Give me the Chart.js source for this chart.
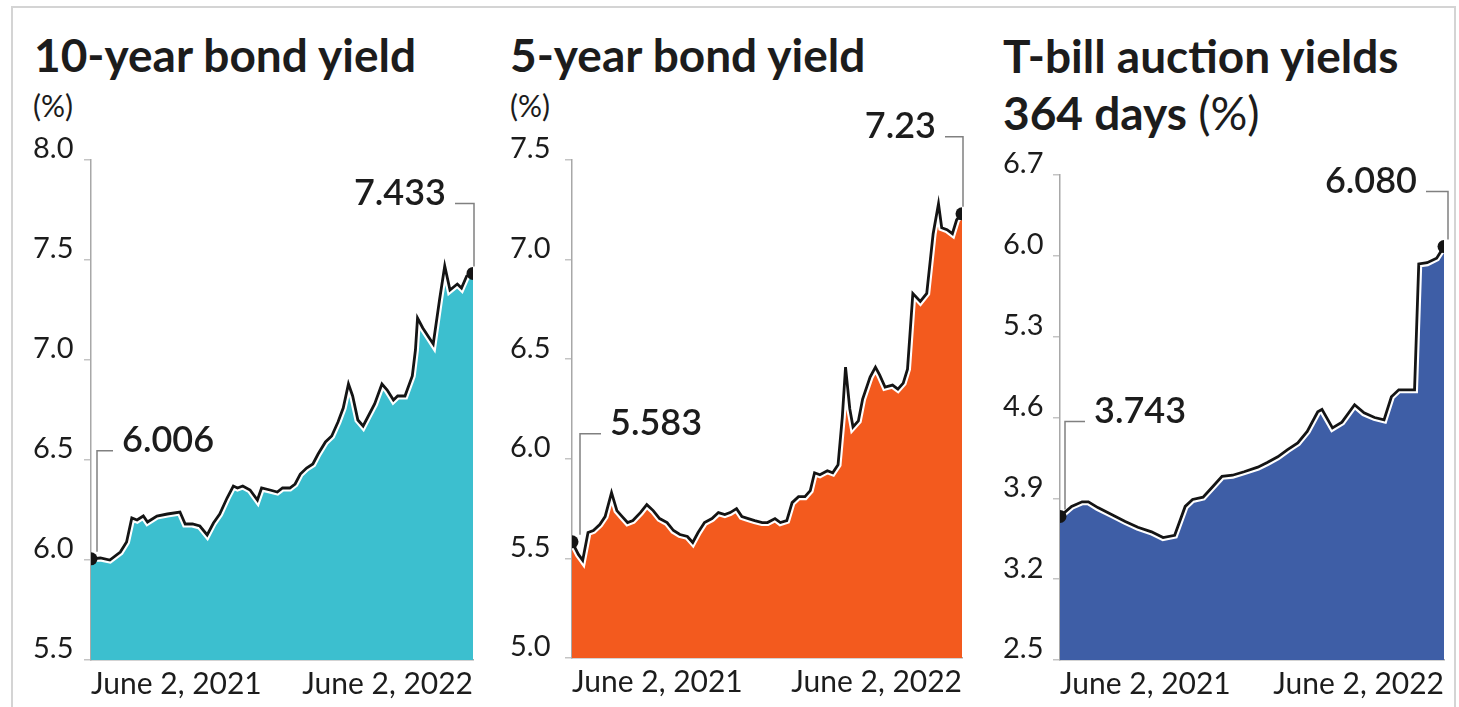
<!DOCTYPE html>
<html>
<head>
<meta charset="utf-8">
<script src="https://cdn.jsdelivr.net/npm/chart.js@4.4.1/dist/chart.umd.min.js"></script>
<style>
    html, body { margin: 0; padding: 0; background: #fff; }
    body { width: 1459px; height: 707px; position: relative; overflow: hidden; font-family: Lato, sans-serif; color: #1c1c1c; }
    .frame { position: absolute; left: 11px; top: 6px; width: 1441px; height: 730px; border: 2px solid #d4d4d4; }
    .title { position: absolute; font-weight: 700; font-size: 46px; line-height: 1; white-space: nowrap; }
    .title.two { line-height: 57px; }
    .title .light { font-weight: 400; }
    .unit { position: absolute; font-size: 30px; line-height: 1; }
    canvas { position: absolute; }
</style>
</head>
<body>
<div class="frame"></div>

<div class="title" style="left:34px; top:32px;">10-year bond yield</div>
<div class="unit" style="left:33px; top:90px;">(%)</div>
<div class="title" style="left:510px; top:32px;">5-year bond yield</div>
<div class="unit" style="left:510px; top:90px;">(%)</div>
<div class="title two" style="left:1003px; top:27px;">T-bill auction yields<br>364 days <span class="light">(%)</span></div>

<canvas id="ten-year" width="460" height="617" style="left:33px; top:90px;"></canvas>
<canvas id="five-year" width="476" height="617" style="left:510px; top:90px;"></canvas>
<canvas id="t-bill" width="454" height="617" style="left:1003px; top:90px;"></canvas>

<script>
// x values are days since June 2, 2021
const x_tick_days = [0, 365];
const x_tick_labels = ['June 2, 2021', 'June 2, 2022'];

const ten_days = [0, 9, 18, 28, 34, 39, 44, 50, 54, 63, 73, 85, 90, 97, 104, 111, 117, 123, 130, 136,
    140, 145, 152, 159, 163, 171, 178, 183, 190, 195, 200, 206, 212, 217, 224, 230, 236, 241, 246, 250,
    255, 260, 265, 271, 278, 283, 289, 293, 300, 307, 310, 312, 317, 327, 333, 338, 343, 350, 354, 359, 365];
const ten_yield = [6.006, 6.01, 6.0, 6.04, 6.09, 6.21, 6.2, 6.22, 6.19, 6.22, 6.23, 6.24, 6.18, 6.18, 6.17, 6.125, 6.185, 6.23, 6.31, 6.37,
    6.36, 6.37, 6.35, 6.30, 6.36, 6.35, 6.34, 6.36, 6.36, 6.38, 6.43, 6.46, 6.48, 6.53, 6.59, 6.62, 6.69, 6.76, 6.88, 6.82,
    6.70, 6.67, 6.72, 6.78, 6.88, 6.85, 6.80, 6.82, 6.82, 6.92, 7.05, 7.21, 7.16, 7.08, 7.30, 7.47, 7.35, 7.38, 7.36, 7.42, 7.433];
const ten_ticks = [5.5, 6.0, 6.5, 7.0, 7.5, 8.0];

const five_days = [0, 6, 10, 15, 20, 26, 31, 37, 42, 47, 52, 57, 64, 70, 76, 82, 89, 95, 101, 108,
    113, 118, 124, 131, 137, 143, 148, 154, 159, 165, 171, 178, 183, 190, 195, 201, 206, 212, 218, 223,
    227, 232, 239, 244, 249, 253, 256, 260, 263, 268, 272, 279, 284, 288, 293, 300, 305, 310, 314, 319,
    326, 332, 338, 343, 346, 351, 356, 360, 365];
const five_yield = [5.583, 5.52, 5.49, 5.63, 5.64, 5.67, 5.71, 5.83, 5.74, 5.71, 5.68, 5.69, 5.73, 5.77, 5.74, 5.70, 5.68, 5.64, 5.62, 5.61,
    5.58, 5.63, 5.68, 5.70, 5.73, 5.72, 5.73, 5.75, 5.71, 5.70, 5.69, 5.68, 5.68, 5.70, 5.68, 5.69, 5.78, 5.81, 5.81, 5.84,
    5.93, 5.92, 5.94, 5.93, 5.97, 6.21, 6.46, 6.25, 6.16, 6.19, 6.30, 6.41, 6.46, 6.42, 6.36, 6.37, 6.35, 6.38, 6.45, 6.83,
    6.79, 6.83, 7.13, 7.28, 7.16, 7.15, 7.13, 7.20, 7.23];
const five_ticks = [5.0, 5.5, 6.0, 6.5, 7.0, 7.5];

const tbill_days = [0, 11, 21, 27, 36, 49, 62, 74, 87, 98, 109, 119, 126, 136, 144, 154, 164, 175, 188, 197,
    207, 216, 226, 235, 245, 249, 259, 268, 280, 289, 299, 308, 315, 322, 337, 341, 349, 358, 365];
const tbill_yield = [3.743, 3.83, 3.87, 3.87, 3.82, 3.76, 3.70, 3.65, 3.61, 3.56, 3.58, 3.83, 3.89, 3.91, 3.99, 4.09, 4.10, 4.13, 4.17, 4.21,
    4.26, 4.32, 4.38, 4.48, 4.65, 4.67, 4.51, 4.56, 4.71, 4.64, 4.60, 4.58, 4.78, 4.84, 4.84, 5.93, 5.94, 5.98, 6.08];
const tbill_ticks = [2.5, 3.2, 3.9, 4.6, 5.3, 6.0, 6.7];

const FONT = 'Lato, sans-serif';

// value label with an elbow leader line, hung off the first / last point
const calloutPlugin = {
    id: 'callout',
    afterDatasetsDraw(chart, args, opts) {
        const ctx = chart.ctx;
        const meta = chart.getDatasetMeta(0);
        const values = chart.data.datasets[0].data;

        (opts.items || []).forEach(item => {
            const pt = meta.data[item.index];
            const x0 = pt.x + item.dx;
            const y_top = pt.y - item.rise;
            const x1 = x0 + item.run;

            ctx.save();
            ctx.strokeStyle = '#808080';
            ctx.lineWidth = 1.5;
            ctx.beginPath();
            ctx.moveTo(x0, pt.y - 7);
            ctx.lineTo(x0, y_top);
            ctx.lineTo(x1, y_top);
            ctx.stroke();

            ctx.font = `600 36px ${FONT}`;
            ctx.fillStyle = '#1c1c1c';
            ctx.textBaseline = 'middle';
            ctx.textAlign = item.run > 0 ? 'left' : 'right';
            ctx.fillText(values[item.index].y.toFixed(item.digits), x1 + Math.sign(item.run) * 9, y_top - 10);
            ctx.restore();
        });
    }
};

const makeChart = (id, cfg) => {
    const points = cfg.days.map((d, i) => ({ x: d, y: cfg.values[i] }));
    const last = points.length - 1;

    return new Chart(document.getElementById(id), {
        type: 'line',
        data: {
            datasets: [{
                data: points,
                borderColor: '#141414',
                borderWidth: 2.8,
                fill: false,
                tension: 0,
                pointRadius: ctx => (ctx.dataIndex === 0 || ctx.dataIndex === last) ? 6.5 : 0,
                pointBackgroundColor: '#141414',
                pointBorderWidth: 0,
            }, {
                data: points,
                borderColor: '#ffffff',
                borderWidth: 7,
                backgroundColor: cfg.color,
                fill: 'start',
                tension: 0,
                pointRadius: 0,
            }]
        },
        options: {
            responsive: false,
            animation: false,
            events: [],
            layout: { padding: cfg.padding },
            plugins: {
                legend: { display: false },
                tooltip: { enabled: false },
                callout: { items: cfg.callouts },
            },
            scales: {
                x: {
                    type: 'linear',
                    min: 0,
                    max: 365,
                    afterBuildTicks: scale => { scale.ticks = x_tick_days.map(v => ({ value: v })); },
                    afterFit: scale => { scale.height = cfg.xHeight; },
                    grid: { display: false, drawTicks: false },
                    border: { display: true, color: '#a8a8a8', width: 1.5 },
                    ticks: {
                        autoSkip: false,
                        maxRotation: 0,
                        align: 'inner',
                        padding: 6,
                        color: '#1c1c1c',
                        font: { family: FONT, size: 30 },
                        callback: v => x_tick_labels[x_tick_days.indexOf(v)],
                    },
                },
                y: {
                    type: 'linear',
                    min: cfg.ticks[0],
                    max: cfg.ticks[cfg.ticks.length - 1],
                    afterBuildTicks: scale => { scale.ticks = cfg.ticks.map(v => ({ value: v })); },
                    afterFit: scale => { scale.width = cfg.yWidth; },
                    grid: { drawOnChartArea: false, drawTicks: true, tickLength: 7, color: '#c4c4c4', lineWidth: 1.5 },
                    border: { display: true, color: '#a8a8a8', width: 1.5 },
                    ticks: {
                        crossAlign: 'far',
                        labelOffset: -11,
                        color: '#1c1c1c',
                        font: { family: FONT, size: 29 },
                        callback: v => v.toFixed(1),
                    },
                },
            },
        },
        plugins: [calloutPlugin],
    });
};

(function () {
    makeChart('ten-year', {
        days: ten_days,
        values: ten_yield,
        ticks: ten_ticks,
        color: '#3cbfcf',
        padding: { top: 70, right: 20, left: 0, bottom: 0 },
        yWidth: 58,
        xHeight: 47,
        callouts: [
            { index: 0, dx: 6, rise: 108, run: 16, digits: 3 },
            { index: ten_days.length - 1, dx: 1, rise: 70, run: -19, digits: 3 },
        ],
    });

    makeChart('five-year', {
        days: five_days,
        values: five_yield,
        ticks: five_ticks,
        color: '#f35a1e',
        padding: { top: 70, right: 24, left: 0, bottom: 0 },
        yWidth: 62,
        xHeight: 49,
        callouts: [
            { index: 0, dx: 8, rise: 108, run: 21, digits: 3 },
            { index: five_days.length - 1, dx: 1, rise: 77, run: -18, digits: 2 },
        ],
    });

    makeChart('t-bill', {
        days: tbill_days,
        values: tbill_yield,
        ticks: tbill_ticks,
        color: '#3e5ea6',
        padding: { top: 85, right: 13, left: 0, bottom: 0 },
        yWidth: 57,
        xHeight: 47,
        callouts: [
            { index: 0, dx: 5, rise: 95, run: 20, digits: 3 },
            { index: tbill_days.length - 1, dx: 4, rise: 55, run: -22, digits: 3 },
        ],
    });
})();
</script>
</body>
</html>
